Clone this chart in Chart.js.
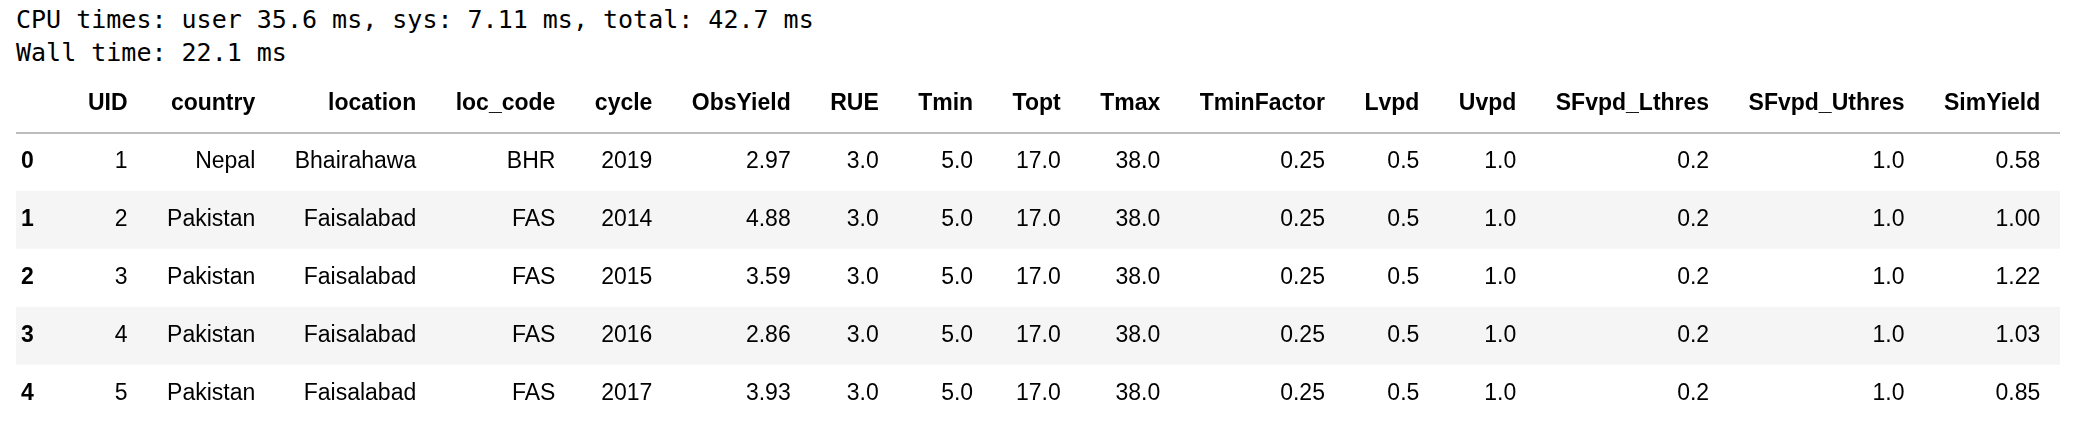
<!DOCTYPE html>
<html><head><meta charset="utf-8">
<script src="https://cdn.jsdelivr.net/npm/chart.js@4.4.1/dist/chart.umd.min.js"></script>
<style>
html,body{margin:0;padding:0;background:#fff;width:2074px;height:438px;overflow:hidden}
#out{position:absolute;left:16px;top:3px;font-family:"DejaVu Sans Mono",monospace;font-size:25px;line-height:33px;color:#000;white-space:pre}
#wrap{position:absolute;left:16px;top:75px;width:2044px;height:348px}
</style></head><body>
<div id="out">CPU times: user 35.6 ms, sys: 7.11 ms, total: 42.7 ms
Wall time: 22.1 ms</div>
<div id="wrap"><canvas id="c"></canvas></div>
<script>
const columns = ["", "UID","country","location","loc_code","cycle","ObsYield","RUE","Tmin","Topt","Tmax","TminFactor","Lvpd","Uvpd","SFvpd_Lthres","SFvpd_Uthres","SimYield"];
const rowIndex = ["0","1","2","3","4"];
const uid = ["1","2","3","4","5"];
const country = ["Nepal","Pakistan","Pakistan","Pakistan","Pakistan"];
const locationCol = ["Bhairahawa","Faisalabad","Faisalabad","Faisalabad","Faisalabad"];
const locCode = ["BHR","FAS","FAS","FAS","FAS"];
const cycle = ["2019","2014","2015","2016","2017"];
const obsYield = ["2.97","4.88","3.59","2.86","3.93"];
const rue = ["3.0","3.0","3.0","3.0","3.0"];
const tmin = ["5.0","5.0","5.0","5.0","5.0"];
const topt = ["17.0","17.0","17.0","17.0","17.0"];
const tmax = ["38.0","38.0","38.0","38.0","38.0"];
const tminFactor = ["0.25","0.25","0.25","0.25","0.25"];
const lvpd = ["0.5","0.5","0.5","0.5","0.5"];
const uvpd = ["1.0","1.0","1.0","1.0","1.0"];
const sfLthres = ["0.2","0.2","0.2","0.2","0.2"];
const sfUthres = ["1.0","1.0","1.0","1.0","1.0"];
const simYield = ["0.58","1.00","1.22","1.03","0.85"];
const cols = [rowIndex,uid,country,locationCol,locCode,cycle,obsYield,rue,tmin,topt,tmax,tminFactor,lvpd,uvpd,sfLthres,sfUthres,simYield];
const rowLabels = ["header"].concat(rowIndex);
const FONT = '"Liberation Sans", Arial, sans-serif';
const SIZE = '23px ';

const tablePlugin = {
  id:'table',
  afterDatasetsDraw(chart){
    const ctx = chart.ctx, y = chart.scales.y, area = chart.chartArea;
    ctx.save();
    const w = cols.map((c,i)=>{
      ctx.font = 'bold '+SIZE+FONT;
      let m = ctx.measureText(columns[i]).width;
      c.forEach(v=>{ ctx.font = (i===0?'bold ':'')+SIZE+FONT; m=Math.max(m,ctx.measureText(v).width); });
      return m;
    });
    const total = w.reduce((a,b)=>a+b,0);
    const pad = (area.right-area.left-total)/cols.length;
    let x = area.left;
    const rights = w.map(v=>{ x += v+pad; return x - pad/2; });
    ctx.textBaseline='middle'; ctx.fillStyle='#000'; ctx.textAlign='right';
    const hy = y.getPixelForValue(0);
    ctx.font='bold '+SIZE+FONT;
    columns.forEach((h,i)=>ctx.fillText(h, rights[i], hy));
    cols.forEach((c,i)=>{
      ctx.font=(i===0?'bold ':'')+SIZE+FONT;
      c.forEach((v,r)=>{
        if(i===0){ctx.textAlign='left';ctx.fillText(v, area.left+5, y.getPixelForValue(r+1));ctx.textAlign='right';}
        else ctx.fillText(v, rights[i], y.getPixelForValue(r+1));
      });
    });
    const sep = (y.getPixelForValue(0)+y.getPixelForValue(1))/2;
    ctx.strokeStyle='#bdbdbd'; ctx.lineWidth=2;
    ctx.beginPath(); ctx.moveTo(area.left,sep); ctx.lineTo(area.right,sep); ctx.stroke();
    ctx.restore();
  }
};

new Chart(document.getElementById('c'),{
  type:'bar',
  data:{labels:rowLabels,datasets:[{
    data:rowLabels.map(()=>[0,1]),
    backgroundColor:rowLabels.map((l,i)=>(i===2||i===4)?'#f5f5f5':'#ffffff'),
    borderWidth:0, categoryPercentage:1, barPercentage:1
  }]},
  options:{
    indexAxis:'y', responsive:true, maintainAspectRatio:false, animation:false,
    events:[], layout:{padding:0},
    plugins:{legend:{display:false},tooltip:{enabled:false}},
    scales:{x:{display:false,min:0,max:1},y:{display:false}}
  },
  plugins:[tablePlugin]
});
</script></body></html>
